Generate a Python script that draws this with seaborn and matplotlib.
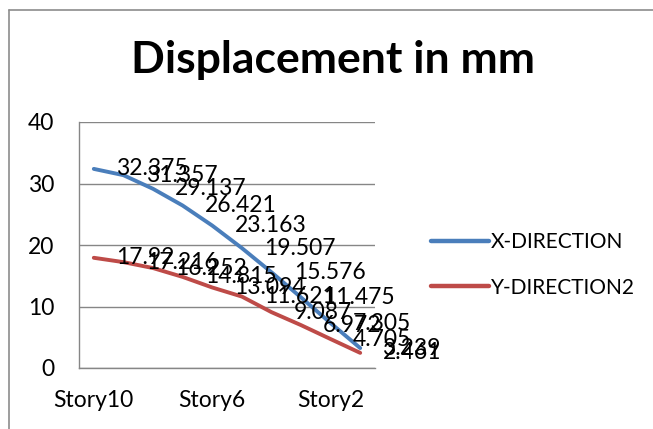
import numpy as np
import pandas as pd
import seaborn as sns
import matplotlib.pyplot as plt
from matplotlib.lines import Line2D

# Story displacement values (mm)
stories = ["Story10", "Story9", "Story8", "Story7", "Story6",
           "Story5", "Story4", "Story3", "Story2", "Story1"]
x_dir = [32.375, 31.357, 29.137, 26.421, 23.163, 19.507, 15.576, 11.475, 7.305, 3.239]
y_dir = [17.92, 17.216, 16.252, 14.815, 13.094, 11.621, 9.087, 6.972, 4.705, 2.461]
series_names = ["X-DIRECTION", "Y-DIRECTION2"]
tick_labels = ["Story10", "Story6", "Story2"]

df = pd.DataFrame({
    "story": stories * 2,
    "pos": list(range(len(stories))) * 2,
    "value": x_dir + y_dir,
    "series": [series_names[0]] * len(stories) + [series_names[1]] * len(stories),
})

sns.set_theme(style="white")
plt.rcParams["font.family"] = ["Lato", "DejaVu Sans"]
plt.rcParams["text.color"] = "black"

colors = {series_names[0]: "#4A7EBB", series_names[1]: "#BE4B48"}

fig = plt.figure(figsize=(6.53, 4.29), dpi=100)
ax = fig.add_axes([79 / 653, 1 - 368 / 429, 296 / 653, 246 / 429])

sns.lineplot(data=df, x="pos", y="value", hue="series", palette=colors,
             linewidth=2.8, sort=False, legend=False, ax=ax)
for line in ax.lines:
    line.set_solid_capstyle("round")
    line.set_solid_joinstyle("round")

# data labels to the right of each point
for vals in (x_dir, y_dir):
    for i, v in enumerate(vals):
        ax.annotate(f"{v:g}", (i, v), xytext=(16, 0), textcoords="offset points",
                    ha="left", va="center", fontsize=16.5, color="black",
                    annotation_clip=False)

ax.set_xlim(-0.5, len(stories) - 0.5)
ax.set_ylim(0, 40)
ax.set_yticks([0, 10, 20, 30, 40])
ax.set_xticks([stories.index(t) for t in tick_labels])
ax.set_xticklabels(tick_labels)
ax.tick_params(axis="both", labelsize=16.5, length=0, colors="black")
ax.tick_params(axis="x", pad=16)
ax.tick_params(axis="y", pad=18)
ax.grid(axis="y", color="#868686", linewidth=1)
ax.set_xlabel("")
ax.set_ylabel("")
for side in ("top", "right"):
    ax.spines[side].set_visible(False)
for side in ("left", "bottom"):
    ax.spines[side].set_color("#868686")
    ax.spines[side].set_linewidth(1)

fig.text(333 / 653, 1 - 60 / 429, "Displacement in mm", ha="center", va="center",
         fontsize=32, fontweight="bold", color="black")

handles = [Line2D([], [], color=colors[n], linewidth=3.2, solid_capstyle="round")
           for n in series_names]
fig.legend(handles, series_names, loc="center left",
           bbox_to_anchor=(412 / 653, 1 - 265 / 429), frameon=False,
           fontsize=15, handlelength=2.8, handletextpad=0.1, labelspacing=1.2)

# outer chart border (top and left visible)
fig.add_artist(Line2D([9 / 653, 9 / 653], [0, 1 - 10 / 429], color="#8c8c8c",
                      linewidth=1.2, transform=fig.transFigure))
fig.add_artist(Line2D([9 / 653, 1], [1 - 10 / 429, 1 - 10 / 429], color="#8c8c8c",
                      linewidth=1.2, transform=fig.transFigure))

fig.savefig("out.png", dpi=100)
